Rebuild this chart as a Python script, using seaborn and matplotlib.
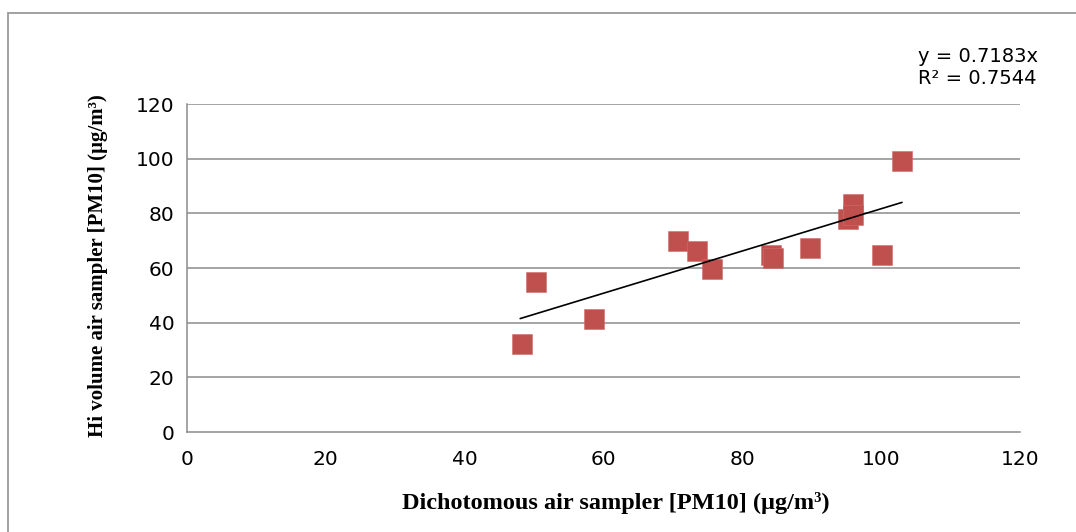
import matplotlib
matplotlib.use("Agg")
import matplotlib.pyplot as plt
import seaborn as sns
import pandas as pd
from matplotlib.patches import Rectangle

# Data
dichotomous = [48.3, 50.3, 58.6, 70.7, 73.5, 75.6, 84.2, 84.4, 89.8, 95.2, 96.0, 96.0, 100.1, 103.0]
hi_volume   = [32.2, 55.0, 41.5, 70.0, 66.3, 59.5, 64.8, 63.5, 67.4, 77.8, 83.4, 79.4, 64.6, 99.3]
trend_x = [48.0, 103.0]
trend_y = [41.5, 84.0]
x_ticks = [0, 20, 40, 60, 80, 100, 120]
y_ticks = [0, 20, 40, 60, 80, 100, 120]
equation_text = "y = 0.7183x\nR\u00b2 = 0.7544"

df = pd.DataFrame({"x": dichotomous, "y": hi_volume})

sns.set_theme(style="white")
plt.rcParams['font.family'] = ['DejaVu Sans']
plt.rcParams['text.color'] = 'black'

W, H = 1076, 532
fig = plt.figure(figsize=(W / 100, H / 100), dpi=100)
ax = fig.add_axes([187 / W, 1 - 432 / H, (1020 - 187) / W, (432 - 104) / H])

grid_c = "#8c8c8c"
for yv in y_ticks[1:]:
    ax.axhline(yv, color=grid_c, lw=1.1, zorder=0)

sns.scatterplot(data=df, x="x", y="y", ax=ax, marker="s", s=215,
                color="#C0504D", edgecolor="#cc6f6b", linewidth=0.4, zorder=3)
ax.plot(trend_x, trend_y, color="black", lw=1.2, zorder=4)

ax.set_xlim(0, 120)
ax.set_ylim(0, 120)
ax.set_xticks(x_ticks)
ax.set_yticks(y_ticks)
ax.tick_params(axis="both", direction="out", length=5, width=1.1, color=grid_c,
               labelsize=14.5, labelcolor="black", pad=4)
ax.tick_params(axis="x", pad=8)
for s in ["top", "right"]:
    ax.spines[s].set_visible(False)
for s in ["left", "bottom"]:
    ax.spines[s].set_color(grid_c)
    ax.spines[s].set_linewidth(1.1)

ax.set_xlabel("")
ax.set_ylabel("")
fig.text(616 / W, 1 - 503 / H, "Dichotomous air sampler [PM10] (\u00b5g/m\u00b3)",
         ha="center", va="center", fontsize=17.5, fontweight="bold", color="black",
         family=["Liberation Serif"])
fig.text(98 / W, 1 - 266 / H, "Hi volume air sampler [PM10] (\u00b5g/m\u00b3)",
         ha="center", va="center", rotation=90, fontsize=15, fontweight="bold", color="black",
         family=["Liberation Serif"])

fig.text(918 / W, 1 - 67 / H, equation_text, ha="left", va="center",
         fontsize=14, linespacing=1.2, color="black")

fig.patches.append(Rectangle((8 / W, -0.1), 1.2, 1.1 - 13 / H, transform=fig.transFigure,
                             fill=False, edgecolor="#9a9a9a", lw=1.3))

fig.savefig("out.png", dpi=100)
